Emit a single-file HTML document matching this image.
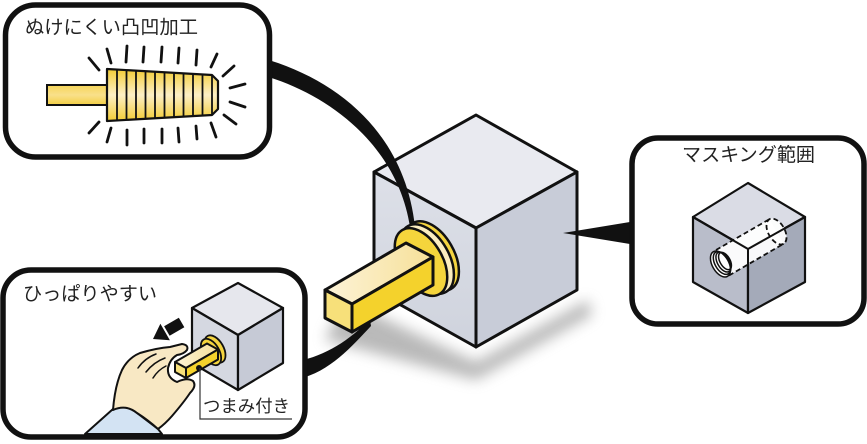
<!DOCTYPE html>
<html><head><meta charset="utf-8"><style>
html,body{margin:0;padding:0;background:#fff;}
svg{display:block;}
text{font-family:"Liberation Sans","Noto Sans CJK JP",sans-serif;fill:#222;}
</style></head><body>
<svg width="867" height="444" viewBox="0 0 867 444" xmlns="http://www.w3.org/2000/svg">
<defs>
<filter id="blur" x="-30%" y="-30%" width="160%" height="160%"><feGaussianBlur stdDeviation="7"/></filter>
<linearGradient id="cone" x1="0" y1="0" x2="0" y2="1">
<stop offset="0" stop-color="#f2cc35"/><stop offset="0.5" stop-color="#fdf0c6"/><stop offset="1" stop-color="#f2cc35"/></linearGradient>
<linearGradient id="stem" x1="0" y1="0" x2="0" y2="1">
<stop offset="0" stop-color="#f5d558"/><stop offset="0.5" stop-color="#f9e08a"/><stop offset="1" stop-color="#f3cf45"/></linearGradient>
<linearGradient id="shTop" x1="0" y1="0" x2="1" y2="0">
<stop offset="0" stop-color="#fdf3d8"/><stop offset="1" stop-color="#f6e098"/></linearGradient>
<linearGradient id="lf" x1="0" y1="0" x2="0" y2="1">
<stop offset="0" stop-color="#dde0e8"/><stop offset="1" stop-color="#cfd3dd"/></linearGradient>
</defs>
<rect width="867" height="444" fill="#fff"/>

<!-- shadow -->
<polygon points="345,300 476,362 588,300 592,315 476,380 325,340" fill="#808080" opacity="0.55" filter="url(#blur)"/>

<!-- main cube -->
<g stroke="#111" stroke-width="3" stroke-linejoin="round">
<polygon points="476,115 577,172 476,228 374,172" fill="#e9eaf0"/>
<polygon points="374,172 476,228 476,347 374,290" fill="url(#lf)"/>
<polygon points="476,228 577,172 577,290 476,347" fill="#c8ccd8"/>
</g>

<!-- connectors -->
<path d="M262,58 C340,80 405,135 415,227 L410,227 C398,148 332,95 262,75 Z" fill="#111"/>
<path d="M298,361 C325,356 350,340 370,319 L371,326 C352,346 330,372 298,379 Z" fill="#111"/>
<polygon points="563,233 636,221 636,245" fill="#111"/>

<!-- ring -->
<g stroke="#111" stroke-width="2.5">
<ellipse cx="432" cy="256" rx="38" ry="22" transform="rotate(60 432 256)" fill="#f4d440"/>
<ellipse cx="427" cy="259" rx="38" ry="22" transform="rotate(60 427 259)" fill="#fbedbf"/>
<ellipse cx="421" cy="262" rx="37" ry="21.5" transform="rotate(60 421 262)" fill="#f5d53c"/>
</g>
<!-- shaft -->
<g stroke="#111" stroke-width="3" stroke-linejoin="round">
<polygon points="325,290 406,243 433,257 352,304" fill="url(#shTop)"/>
<polygon points="352,304 433,257 433,285 352,332" fill="#f4d22c"/>
<polygon points="325,290 352,304 352,332 325,318" fill="#f7e07a"/>
</g>

<!-- bubble 1 -->
<rect x="5.5" y="5" width="264" height="152" rx="30" fill="#fff" stroke="#111" stroke-width="5.5"/>
<text x="25" y="33.5" font-size="19" textLength="173" lengthAdjust="spacingAndGlyphs">ぬけにくい凸凹加工</text>
<rect x="47" y="85" width="60" height="20" fill="url(#stem)" stroke="#111" stroke-width="2"/>
<polygon points="107,69 212,75 218,81 218,109 212,115 107,121" fill="url(#cone)" stroke="#111" stroke-width="2.2" stroke-linejoin="round"/>
<g stroke="#111" stroke-width="1.8">
<line x1="117" y1="69.6" x2="117" y2="120.4"/>
<line x1="126.5" y1="70.1" x2="126.5" y2="119.9"/>
<line x1="136" y1="70.7" x2="136" y2="119.3"/>
<line x1="145.5" y1="71.2" x2="145.5" y2="118.8"/>
<line x1="155" y1="71.7" x2="155" y2="118.3"/>
<line x1="164.5" y1="72.3" x2="164.5" y2="117.7"/>
<line x1="174" y1="72.8" x2="174" y2="117.2"/>
<line x1="183.5" y1="73.4" x2="183.5" y2="116.6"/>
<line x1="193" y1="73.9" x2="193" y2="116.1"/>
<line x1="202.5" y1="74.5" x2="202.5" y2="115.5"/>
<line x1="212" y1="75" x2="212" y2="115"/>
</g>
<g stroke="#111" stroke-width="2.8" stroke-linecap="round">
<line x1="89" y1="58" x2="99" y2="70"/>
<line x1="107" y1="49" x2="111" y2="63"/>
<line x1="127" y1="46" x2="126" y2="62"/>
<line x1="144" y1="47" x2="143" y2="62"/>
<line x1="162" y1="47" x2="161" y2="62"/>
<line x1="179" y1="48" x2="178" y2="63"/>
<line x1="197" y1="50" x2="196" y2="65"/>
<line x1="217" y1="54" x2="211" y2="67"/>
<line x1="234" y1="66" x2="223" y2="76"/>
<line x1="245" y1="84" x2="230" y2="88"/>
<line x1="245" y1="107" x2="230" y2="102"/>
<line x1="236" y1="124" x2="224" y2="115"/>
<line x1="89" y1="133" x2="99" y2="122"/>
<line x1="107" y1="142" x2="111" y2="128"/>
<line x1="127" y1="145" x2="127" y2="130"/>
<line x1="144" y1="143" x2="144" y2="129"/>
<line x1="162" y1="143" x2="162" y2="129"/>
<line x1="179" y1="142" x2="178" y2="128"/>
<line x1="197" y1="139" x2="196" y2="126"/>
<line x1="216" y1="137" x2="211" y2="123"/>
</g>

<!-- bubble right -->
<rect x="632" y="138" width="232" height="186" rx="26" fill="#fff" stroke="#111" stroke-width="5.5"/>
<text x="682" y="161" font-size="19" textLength="133" lengthAdjust="spacingAndGlyphs">マスキング範囲</text>
<g stroke="#111" stroke-width="2.2" stroke-linejoin="round">
<polygon points="748,183 805,217 748,249 693,217" fill="#dadce5"/>
<polygon points="693,217 748,249 748,313 693,282" fill="#b9bdca"/>
<polygon points="748,249 805,217 805,282 748,313" fill="#a4aab9"/>
</g>
<polygon points="713.4,251.7 769.4,219.2 783.6,243.8 727.6,276.3" fill="#fff" opacity="0.92"/>
<ellipse cx="776.5" cy="231.5" rx="14.2" ry="8.2" transform="rotate(60 776.5 231.5)" fill="#fff" opacity="0.92"/>
<g stroke="#111" stroke-width="2" stroke-linejoin="round" fill="none">
<polyline points="693,217 748,249 805,217"/>
<line x1="748" y1="249" x2="748" y2="313"/>
</g>
<g stroke="#111" stroke-width="1.8" fill="none" stroke-dasharray="5 3">
<line x1="716" y1="250" x2="769.4" y2="219.2"/>
<line x1="729" y1="275.5" x2="783.6" y2="243.8"/>
<ellipse cx="776.5" cy="231.5" rx="14.2" ry="8.2" transform="rotate(60 776.5 231.5)"/>
</g>
<g stroke="#111" stroke-width="1.5">
<ellipse cx="720.5" cy="264" rx="14.2" ry="8.2" transform="rotate(60 720.5 264)" fill="#fff"/>
<ellipse cx="722" cy="263" rx="12.5" ry="7" transform="rotate(60 722 263)" fill="none"/>
<ellipse cx="723.5" cy="262" rx="11" ry="6" transform="rotate(60 723.5 262)" fill="none"/>
<ellipse cx="725" cy="261" rx="9.5" ry="5" transform="rotate(60 725 261)" fill="none"/>
</g>

<!-- bubble bottom-left -->
<rect x="3" y="270" width="302" height="167" rx="28" fill="#fff" stroke="#111" stroke-width="5.5"/>
<text x="23" y="300" font-size="19" textLength="134" lengthAdjust="spacingAndGlyphs">ひっぱりやすい</text>
<g stroke="#111" stroke-width="2.2" stroke-linejoin="round">
<polygon points="238,283 283,308 238,335 192,308" fill="#e6e7ed"/>
<polygon points="192,308 238,335 238,390 192,363" fill="#d5d8e1"/>
<polygon points="238,335 283,308 283,363 238,390" fill="#c6cad6"/>
</g>
<g stroke="#111" stroke-width="1.8">
<ellipse cx="215" cy="349" rx="15" ry="8.5" transform="rotate(60 215 349)" fill="#f4d440"/>
<ellipse cx="211" cy="352" rx="14.5" ry="8.2" transform="rotate(60 211 352)" fill="#f5d53c"/>
</g>
<g stroke="#111" stroke-width="2" stroke-linejoin="round">
<polygon points="175,362 207,343.5 218,349.5 186,368" fill="url(#shTop)"/>
<polygon points="186,368 218,349.5 218,359.5 186,378" fill="#f4d22c"/>
<polygon points="175,362 186,368 186,378 175,372" fill="#f7e07a"/>
</g>
<!-- leader -->
<circle cx="199" cy="368" r="3" fill="#111"/>
<polyline points="200,368 200,419 292,419" fill="none" stroke="#333" stroke-width="1.2"/>
<text x="203" y="412" font-size="17" textLength="87" lengthAdjust="spacingAndGlyphs">つまみ付き</text>
<!-- arrow -->
<g transform="translate(153,339) rotate(-30)" fill="#111">
<polygon points="0,0 14,-9.5 14,9.5"/>
<polygon points="16,-5.5 33,-5.5 33,5.5 16,5.5"/>
</g>
<!-- sleeve -->
<path d="M85,434 L113,409 Q126,404 137,413 L158,429 L162,434 Z" fill="#d3e3f3" stroke="#111" stroke-width="2" stroke-linejoin="round"/>
<!-- hand -->
<path d="M113,410 Q115,385 122,370 Q128,358 140,353 Q157,348 170,347 L182,344 Q189,345 187,350 Q184,354 177,355 Q170,359 168,368 Q167,378 177,382 Q187,377 193,381 Q197,386 190,393 Q184,402 172,416 Q165,424 158,429 Q148,420 137,413 Q126,404 113,410 Z" fill="#f8e8c4" stroke="#111" stroke-width="2" stroke-linejoin="round"/>
<g stroke="#111" stroke-width="1.5" fill="none" stroke-linecap="round">
<path d="M138,368 Q145,358 156,354"/>
<path d="M146,372 Q154,362 165,358"/>
<path d="M153,378 Q158,370 166,366"/>
</g>
</svg>
</body></html>
